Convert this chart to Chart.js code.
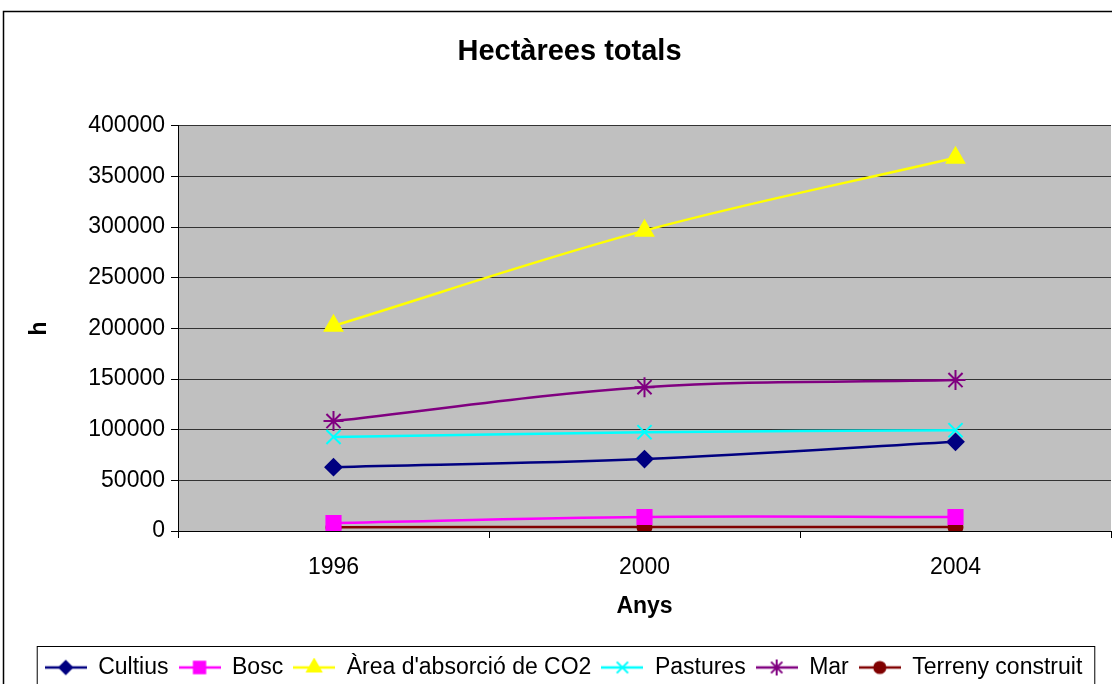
<!DOCTYPE html>
<html lang="ca">
<head>
  <meta charset="UTF-8" />
  <title>Hectàrees totals</title>
  <script src="https://cdn.jsdelivr.net/npm/chart.js"></script>
  <style>
    body { margin: 0; background: #fff; }
    canvas { display: block; }
  </style>
</head>
<body>
  <canvas id="chart" width="1112" height="684"></canvas>
  <script>
    const years = ['1996', '2000', '2004'];
    const cultius = [63000, 71000, 88000];
    const bosc = [7900, 13800, 13800];
    const area = [202500, 296500, 368500];
    const pastures = [92800, 97500, 99500];
    const mar = [108500, 142000, 149000];
    const terreny = [3800, 3900, 3900];
    const yTicks = [0, 50000, 100000, 150000, 200000, 250000, 300000, 350000, 400000];

    const font = 'Liberation Sans, Arial, sans-serif';
    // the original's title and legend sit a bit right of centre
    const titleShift = 14;
    const legendShift = 8;

    const series = [
      { label: 'Cultius', data: cultius, color: '#000080', style: 'rectRot', r: 8 },
      { label: 'Bosc', data: bosc, color: '#FF00FF', style: 'rect', r: 10 },
      { label: "Àrea d'absorció de CO2", data: area, color: '#FFFF00', style: 'triangle', r: 10 },
      { label: 'Pastures', data: pastures, color: '#00FFFF', style: 'crossRot', r: 10 },
      { label: 'Mar', data: mar, color: '#800080', style: 'star', r: 10 },
      { label: 'Terreny construit', data: terreny, color: '#800000', style: 'circle', r: 7 }
    ];

    // legend swatch: a line with the marker in the middle, like Excel
    const swatch = s => {
      const c = document.createElement('canvas');
      c.width = 42; c.height = 20;
      const ctx = c.getContext('2d');
      ctx.strokeStyle = s.color;
      ctx.lineWidth = 2.5;
      ctx.beginPath(); ctx.moveTo(0, 10); ctx.lineTo(42, 10); ctx.stroke();
      ctx.fillStyle = s.color;
      ctx.lineWidth = 2;
      Chart.helpers.drawPoint(ctx, { pointStyle: s.style, radius: s.r * 0.8, borderWidth: 2, rotation: 0 }, 21, 10);
      return c;
    };

    const frame = {
      id: 'frame',
      beforeInit(chart) {
        const fit = chart.legend.fit;
        chart.legend.fit = function () { fit.call(this); this.height = 38; };
      },
      afterUpdate(chart) {
        chart.legend.left += legendShift; chart.legend.right += legendShift;
        chart.titleBlock.left += titleShift; chart.titleBlock.right += titleShift;
      },
      beforeDraw(chart) {
        const { ctx, chartArea: a } = chart;
        ctx.save();
        ctx.fillStyle = '#C0C0C0';
        ctx.fillRect(a.left, a.top, a.right - a.left, a.bottom - a.top);
        ctx.restore();
      },
      afterDraw(chart) {
        const { ctx } = chart;
        const boxes = chart.legend.legendHitBoxes;
        ctx.save();
        ctx.strokeStyle = '#000';
        ctx.lineWidth = 1.5;
        ctx.strokeRect(3.5, 11.5, 1200, 1000);
        if (boxes.length) {
          const l = Math.min(...boxes.map(b => b.left)) - 8 + legendShift;
          const r = Math.max(...boxes.map(b => b.left + b.width)) + 12 + legendShift;
          ctx.lineWidth = 1;
          ctx.strokeRect(l + 0.5, 646.5, r - l, 60);
        }
        ctx.restore();
      }
    };

    new Chart(document.getElementById('chart'), {
      type: 'line',
      data: {
        labels: years,
        datasets: series.map(s => ({
          label: s.label,
          data: s.data,
          borderColor: s.color,
          backgroundColor: s.color,
          borderWidth: 2.5,
          tension: 0.35,
          pointStyle: s.style,
          pointRadius: s.r,
          pointBorderWidth: 2,
          pointBackgroundColor: s.color,
          pointBorderColor: s.color,
          fill: false,
          legendImg: swatch(s)
        }))
      },
      options: {
        responsive: false,
        animation: false,
        devicePixelRatio: 1,
        layout: { autoPadding: false, padding: { right: 1 } },
        plugins: {
          title: {
            display: true,
            text: 'Hectàrees totals',
            color: '#000',
            font: { family: font, size: 29, weight: 'bold' },
            padding: { top: 35, bottom: 56 }
          },
          legend: {
            position: 'bottom',
            labels: {
              color: '#000',
              font: { family: font, size: 23 },
              usePointStyle: true,
              pointStyleWidth: 42,
              padding: 10,
              generateLabels: chart => chart.data.datasets.map((d, i) => ({
                text: d.label,
                pointStyle: d.legendImg,
                fillStyle: d.borderColor,
                strokeStyle: d.borderColor,
                lineWidth: 0,
                datasetIndex: i,
                fontColor: '#000'
              }))
            }
          },
          tooltip: { enabled: false }
        },
        scales: {
          x: {
            offset: true,
            afterFit: s => { s.height = 115; s.paddingLeft = 0; s.paddingRight = 0; },
            grid: { offset: true, drawOnChartArea: false, drawTicks: true, tickLength: 7, color: '#000' },
            border: { color: '#000', width: 1 },
            ticks: { color: '#000', font: { family: font, size: 23 }, padding: 16 },
            title: {
              display: true, text: 'Anys', color: '#000',
              font: { family: font, size: 23, weight: 'bold' },
              padding: { top: 4, bottom: 26 }
            }
          },
          y: {
            min: 0,
            max: 400000,
            afterFit: s => { s.width = 178; },
            afterBuildTicks: s => { s.ticks = yTicks.map(v => ({ value: v })); },
            grid: { color: '#333', lineWidth: 1, tickLength: 7, tickColor: '#000' },
            border: { color: '#000', width: 1 },
            ticks: { color: '#000', font: { family: font, size: 23 }, padding: 6, callback: v => String(v) },
            title: {
              display: true, text: 'h', color: '#000',
              font: { family: font, size: 23, weight: 'bold' },
              padding: { top: 26, bottom: 4 }
            }
          }
        }
      },
      plugins: [frame]
    });
  </script>
</body>
</html>
